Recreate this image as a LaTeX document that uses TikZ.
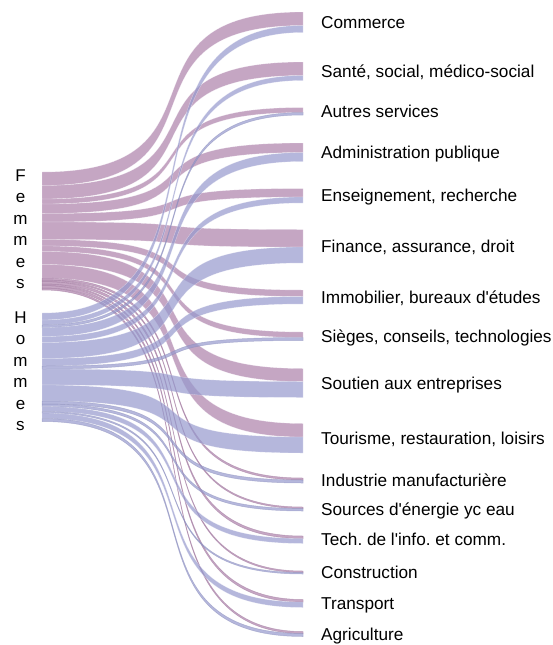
\documentclass[tikz,border=0pt]{standalone}
\usepackage{fontspec}
\setmainfont{Liberation Sans}[Ligatures=TeXOff]
\usetikzlibrary{positioning}
\frenchspacing

\definecolor{femme}{RGB}{172,128,170}
\definecolor{homme}{RGB}{150,153,205}

\tikzstyle{sector} = [anchor=west, inner sep=0pt, text height=12pt, text depth=0pt, font=\fontsize{17.2}{20}\selectfont]
\tikzstyle{gender} = [align=center, inner sep=0pt, font=\fontsize{17}{21.5}\selectfont]
\tikzstyle{flowf} = [fill=femme, fill opacity=.7, draw=white, draw opacity=.5, line width=.3pt]
\tikzstyle{flowh} = [fill=homme, fill opacity=.7, draw=white, draw opacity=.5, line width=.3pt]
\tikzstyle{thinf} = [fill=femme, fill opacity=.7, draw=femme!90!black, draw opacity=.5, line width=.5pt]
\tikzstyle{thinh} = [fill=homme, fill opacity=.7, draw=homme!90!black, draw opacity=.5, line width=.5pt]

% style, left top, right top, width
\newcommand{\band}[4]{\path[#1] (42,#2) .. controls (242,#2) and (103,#3) .. (303,#3)
  -- (303,#3+#4) .. controls (103,#3+#4) and (242,#2+#4) .. (42,#2+#4) -- cycle;}

% key/label/right top/women left/women width/men left/men width
\newcommand{\sectorlist}{com/Commerce/12/172/13.5/313/7,
  san/{Santé, social, médico-social}/62/185.5/13.5/320/5,
  aut/Autres services/107.5/199/5/325/2.5,
  adm/Administration publique/143/204/9.5/327.5/9,
  ens/{Enseignement, recherche}/188.5/213.5/8.5/336.5/6,
  fin/{Finance, assurance, droit}/229.5/222/17.5/342.5/16,
  imm/{Immobilier, bureaux d'études}/290/239.5/6.5/358.5/7.5,
  sie/{Sièges, conseils, technologies}/332/246/5.5/366/3,
  sou/Soutien aux entreprises/368.5/251.5/13/369/16,
  tou/{Tourisme, restauration, loisirs}/423.5/264.5/13.5/385/16,
  ind/Industrie manufacturière/478/278/2/401/3,
  ene/Sources d'énergie yc eau/507/280/1.5/404/2.5,
  tic/Tech. de l'info. et comm./536/281.5/2.5/406.5/5,
  con/Construction/571/284/1.5/411.5/1.5,
  tra/Transport/599.5/285.5/2.5/413/5.5,
  agr/Agriculture/631.5/288/2/418.5/3}

\begin{document}
\begin{tikzpicture}[x=1pt,y=-1pt]
\useasboundingbox (0,0) rectangle (553,645);

%Genders
\node (femmes) [gender] at (20.5,229) {F\\e\\m\\m\\e\\s};
\node (hommes) [gender] at (20.5,371) {H\\o\\m\\m\\e\\s};

%Women flows and sectors
\foreach \key/\lab/\yr/\yf/\wf/\yh/\wh in \sectorlist {
  \ifdim\wf pt<3pt \def\st{thinf}\else\def\st{flowf}\fi
  \band{\st}{\yf}{\yr}{\wf}
  \coordinate (e\key) at (303,\yr+0.5*\wf+0.5*\wh);
  \node (\key) [sector,right=18pt of e\key] {\lab};
}

%Men flows
\foreach \key/\lab/\yr/\yf/\wf/\yh/\wh in \sectorlist {
  \ifdim\wh pt<3.5pt \def\st{thinh}\else\def\st{flowh}\fi
  \band{\st}{\yh}{\yr+\wf}{\wh}
}

\end{tikzpicture}
\end{document}
